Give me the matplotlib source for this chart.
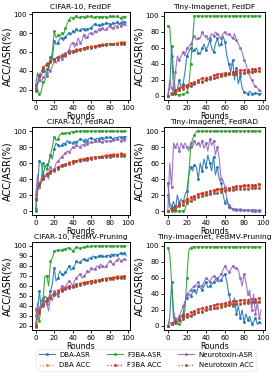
import numpy as np
import matplotlib
matplotlib.use("Agg")
import matplotlib.pyplot as plt
from matplotlib.ticker import MultipleLocator

rounds_asr = np.arange(0, 100, 2)
rounds_acc = np.arange(0, 100, 4)

titles = ["CIFAR-10, FedDF", "Tiny-Imagenet, FedDF",
          "CIFAR-10, FedRAD", "Tiny-Imagenet, FedRAD",
          "CIFAR-10, FedMV-Pruning", "Tiny-Imagenet, FedMV-Pruning"]

# ---------------- Panel 1: CIFAR-10, FedDF ----------------
p1_dba_asr = [25, 38, 30, 35, 40, 38, 42, 40, 55, 52,
              72, 68, 70, 74, 75, 72, 76, 78, 80, 78,
              82, 80, 84, 82, 83, 85, 84, 82, 84, 85,
              86, 88, 90, 88, 89, 87, 90, 89, 91, 90,
              90, 89, 91, 90, 92, 90, 91, 93, 92, 91]
p1_f3ba_asr = [22, 20, 15, 18, 28, 30, 35, 45, 50, 60,
               82, 75, 78, 76, 80, 78, 85, 90, 94, 97,
               96, 97, 98, 96, 97, 98, 97, 96, 98, 97,
               98, 96, 97, 98, 97, 98, 97, 98, 97, 96,
               98, 97, 98, 97, 98, 97, 96, 98, 97, 98]
p1_neuro_asr = [20, 25, 30, 28, 33, 35, 38, 42, 40, 45,
                50, 48, 52, 55, 53, 58, 56, 60, 62, 68,
                70, 65, 68, 75, 70, 72, 78, 74, 76, 80,
                80, 78, 82, 80, 84, 82, 85, 83, 84, 86,
                88, 85, 86, 88, 87, 90, 88, 89, 90, 88]
p1_dba_acc = [22, 35, 43, 48, 51, 52, 55, 56, 59, 60, 61, 63, 63, 64, 65, 66, 66, 67, 68, 68, 69, 69, 70, 71, 71]
p1_f3ba_acc = [20, 36, 44, 47, 50, 53, 55, 57, 58, 60, 61, 62, 63, 64, 65, 65, 66, 67, 67, 68, 68, 69, 69, 70, 70]
p1_neuro_acc = [19, 34, 42, 46, 49, 52, 54, 56, 57, 59, 60, 61, 62, 63, 64, 64, 65, 66, 67, 67, 68, 68, 69, 69, 69]

# ---------------- Panel 2: Tiny-Imagenet, FedDF ----------------
p2_dba_asr = [0, 10, 62, 30, 5, 8, 20, 10, 15, 30,
              50, 55, 60, 55, 58, 60, 54, 52, 60, 65,
              58, 62, 70, 60, 55, 65, 72, 62, 65, 75,
              68, 50, 40, 30, 45, 20, 35, 15, 25, 10,
              5, 4, 3, 6, 3, 2, 4, 3, 2, 3]
p2_f3ba_asr = [88, 86, 50, 10, 2, 2, 1, 2, 2, 3,
               5, 12, 40, 70, 100, 100, 100, 100, 100, 100,
               100, 100, 100, 100, 100, 100, 100, 100, 100, 100,
               100, 100, 100, 100, 100, 100, 100, 100, 100, 100,
               100, 100, 100, 100, 100, 100, 100, 100, 100, 100]
p2_neuro_asr = [0, 20, 10, 5, 30, 50, 45, 50, 55, 50,
                60, 62, 65, 70, 75, 70, 72, 72, 80, 75,
                75, 70, 73, 78, 75, 80, 78, 75, 72, 78,
                80, 76, 78, 75, 72, 78, 70, 65, 60, 55,
                45, 40, 30, 25, 20, 15, 12, 10, 8, 5]
p2_dba_acc = [0, 2, 5, 8, 10, 12, 14, 16, 17, 19, 20, 22, 23, 24, 25, 26, 27, 28, 28, 29, 29, 30, 30, 31, 31]
p2_f3ba_acc = [0, 4, 7, 10, 12, 14, 16, 18, 20, 22, 23, 24, 26, 27, 28, 29, 29, 30, 31, 32, 32, 33, 34, 34, 35]
p2_neuro_acc = [0, 2, 4, 7, 9, 11, 13, 15, 17, 18, 20, 21, 22, 24, 25, 26, 27, 27, 28, 29, 29, 30, 30, 31, 31]

# ---------------- Panel 3: CIFAR-10, FedRAD ----------------
p3_dba_asr = [0, 30, 63, 60, 45, 55, 58, 60, 70, 65,
              78, 85, 82, 80, 82, 85, 84, 88, 86, 85,
              85, 87, 86, 88, 90, 89, 88, 90, 88, 91,
              91, 90, 89, 91, 90, 92, 91, 90, 92, 91,
              92, 91, 90, 92, 91, 93, 92, 91, 93, 93]
p3_f3ba_asr = [2, 28, 30, 40, 60, 55, 52, 60, 70, 80,
               93, 88, 90, 95, 97, 96, 97, 98, 98, 99,
               99, 99, 100, 99, 100, 100, 100, 100, 100, 100,
               100, 100, 100, 100, 100, 100, 100, 100, 100, 100,
               100, 100, 100, 100, 100, 100, 100, 100, 100, 100]
p3_neuro_asr = [20, 45, 30, 35, 40, 42, 45, 40, 55, 50,
                50, 60, 62, 65, 68, 70, 72, 75, 74, 76,
                80, 78, 82, 81, 80, 83, 82, 85, 84, 85,
                86, 85, 87, 86, 88, 87, 86, 88, 87, 88,
                87, 88, 89, 88, 90, 89, 88, 90, 89, 90]
p3_dba_acc = [16, 34, 41, 47, 49, 53, 54, 58, 58, 61, 62, 63, 65, 65, 66, 67, 68, 68, 69, 70, 70, 71, 71, 72, 71]
p3_f3ba_acc = [15, 35, 42, 46, 50, 52, 55, 57, 59, 60, 62, 63, 64, 65, 66, 66, 67, 68, 68, 69, 70, 70, 70, 71, 70]
p3_neuro_acc = [14, 33, 40, 45, 48, 51, 53, 56, 57, 59, 60, 62, 63, 64, 64, 65, 66, 67, 67, 68, 68, 69, 69, 69, 69]

# ---------------- Panel 4: Tiny-Imagenet, FedRAD ----------------
p4_dba_asr = [35, 10, 5, 12, 2, 20, 10, 15, 10, 20,
              25, 45, 55, 50, 58, 55, 40, 60, 50, 65,
              55, 70, 60, 50, 68, 45, 55, 40, 35, 20,
              10, 15, 5, 3, 2, 2, 1, 2, 1, 1,
              1, 1, 1, 0, 1, 1, 0, 1, 0, 0]
p4_f3ba_asr = [20, 5, 0, 0, 0, 0, 0, 0, 0, 2,
               10, 45, 80, 90, 95, 100, 100, 100, 100, 100,
               100, 100, 100, 100, 100, 100, 100, 100, 100, 100,
               100, 100, 100, 100, 100, 100, 100, 100, 100, 100,
               100, 100, 100, 100, 100, 100, 100, 100, 100, 100]
p4_neuro_asr = [0, 60, 30, 85, 80, 85, 75, 85, 80, 85,
                80, 75, 85, 80, 88, 82, 85, 80, 88, 78,
                85, 75, 90, 82, 88, 70, 80, 65, 40, 38,
                30, 15, 8, 5, 3, 2, 2, 1, 2, 1,
                1, 1, 1, 1, 0, 1, 1, 0, 1, 1]
p4_dba_acc = [0, 2, 4, 7, 10, 13, 15, 17, 19, 21, 22, 23, 25, 26, 27, 27, 28, 29, 29, 30, 30, 31, 31, 31, 32]
p4_f3ba_acc = [0, 3, 6, 9, 12, 15, 17, 19, 21, 23, 24, 25, 26, 27, 28, 29, 29, 30, 31, 31, 32, 32, 33, 33, 34]
p4_neuro_acc = [0, 1, 3, 6, 8, 11, 13, 15, 17, 19, 20, 21, 22, 23, 24, 25, 26, 26, 27, 27, 28, 28, 29, 29, 29]

# ---------------- Panel 5: CIFAR-10, FedMV-Pruning ----------------
p5_dba_asr = [22, 35, 55, 38, 45, 50, 48, 48, 55, 62,
              78, 65, 68, 75, 72, 70, 74, 76, 80, 76,
              78, 80, 85, 83, 84, 86, 87, 85, 86, 88,
              88, 90, 89, 88, 90, 91, 90, 89, 90, 91,
              90, 92, 91, 92, 91, 92, 93, 91, 93, 90]
p5_f3ba_asr = [37, 30, 25, 45, 48, 70, 70, 60, 85, 88,
               95, 95, 96, 96, 96, 97, 97, 98, 98, 97,
               95, 97, 99, 98, 98, 98, 99, 99, 100, 99,
               100, 100, 100, 100, 100, 100, 100, 100, 100, 100,
               100, 100, 100, 100, 100, 100, 100, 100, 100, 100]
p5_neuro_asr = [30, 43, 38, 40, 40, 45, 42, 35, 50, 45,
                55, 52, 50, 55, 60, 58, 58, 62, 65, 63,
                60, 65, 68, 70, 72, 68, 70, 72, 75, 73,
                78, 76, 77, 80, 79, 82, 80, 78, 80, 82,
                85, 83, 82, 84, 86, 88, 85, 86, 87, 86]
p5_dba_acc = [21, 34, 43, 47, 51, 52, 56, 56, 59, 59, 61, 61, 63, 64, 64, 65, 66, 66, 67, 68, 68, 69, 70, 70, 70]
p5_f3ba_acc = [20, 36, 42, 46, 50, 53, 55, 57, 58, 60, 60, 62, 62, 63, 64, 65, 65, 66, 67, 67, 68, 68, 69, 69, 70]
p5_neuro_acc = [19, 33, 41, 45, 48, 51, 53, 55, 57, 58, 59, 60, 61, 62, 63, 63, 64, 65, 66, 66, 67, 67, 68, 68, 68]

# ---------------- Panel 6: Tiny-Imagenet, FedMV-Pruning ----------------
p6_dba_asr = [0, 10, 55, 10, 5, 3, 8, 12, 15, 30,
              35, 40, 38, 42, 45, 40, 50, 48, 45, 50,
              55, 48, 50, 52, 55, 58, 60, 55, 58, 62,
              65, 55, 40, 30, 25, 35, 15, 25, 10, 20,
              5, 15, 8, 12, 3, 5, 10, 2, 5, 3]
p6_f3ba_asr = [98, 90, 55, 20, 5, 2, 3, 5, 10, 20,
               60, 95, 98, 99, 99, 99, 99, 99, 99, 99,
               99, 99, 99, 99, 99, 99, 99, 99, 99, 99,
               99, 99, 99, 99, 99, 99, 99, 99, 99, 99,
               99, 99, 99, 99, 99, 99, 99, 99, 99, 99]
p6_neuro_asr = [0, 5, 3, 5, 10, 8, 12, 18, 25, 30,
                40, 42, 45, 48, 50, 52, 55, 50, 50, 55,
                60, 58, 55, 60, 62, 60, 58, 62, 65, 70,
                75, 70, 68, 70, 75, 72, 72, 70, 60, 50,
                65, 55, 40, 45, 20, 40, 15, 30, 10, 20]
p6_dba_acc = [0, 2, 5, 8, 10, 12, 14, 16, 18, 19, 21, 22, 23, 24, 25, 26, 27, 28, 28, 29, 29, 30, 30, 31, 31]
p6_f3ba_acc = [0, 4, 7, 10, 13, 15, 17, 19, 21, 22, 24, 25, 26, 27, 28, 29, 30, 31, 31, 32, 33, 33, 34, 34, 35]
p6_neuro_acc = [0, 2, 4, 7, 9, 11, 13, 15, 17, 18, 20, 21, 22, 23, 24, 25, 26, 27, 27, 28, 29, 29, 30, 30, 30]

panels = [
    (p1_dba_asr, p1_dba_acc, p1_f3ba_asr, p1_f3ba_acc, p1_neuro_asr, p1_neuro_acc),
    (p2_dba_asr, p2_dba_acc, p2_f3ba_asr, p2_f3ba_acc, p2_neuro_asr, p2_neuro_acc),
    (p3_dba_asr, p3_dba_acc, p3_f3ba_asr, p3_f3ba_acc, p3_neuro_asr, p3_neuro_acc),
    (p4_dba_asr, p4_dba_acc, p4_f3ba_asr, p4_f3ba_acc, p4_neuro_asr, p4_neuro_acc),
    (p5_dba_asr, p5_dba_acc, p5_f3ba_asr, p5_f3ba_acc, p5_neuro_asr, p5_neuro_acc),
    (p6_dba_asr, p6_dba_acc, p6_f3ba_asr, p6_f3ba_acc, p6_neuro_asr, p6_neuro_acc),
]
labels = ["DBA-ASR", "DBA ACC", "F3BA-ASR", "F3BA ACC", "Neurotoxin-ASR", "Neurotoxin ACC"]
colors = ["tab:blue", "tab:orange", "tab:green", "tab:red", "tab:purple", "tab:brown"]

fig = plt.figure(figsize=(2.76, 3.75), dpi=100)
W, H = 276.0, 375.0
boxes = [(32, 12, 130, 100), (164, 12, 265, 100),
         (32, 127, 130, 215), (164, 127, 265, 215),
         (32, 242, 130, 330), (164, 242, 265, 330)]

handles = None
for i, (series, title, box) in enumerate(zip(panels, titles, boxes)):
    l, t, r, b = box
    ax = fig.add_axes([l / W, 1 - b / H, (r - l) / W, (b - t) / H])
    hs = []
    for j, (vals, lab, col) in enumerate(zip(series, labels, colors)):
        if j % 2 == 0:
            h, = ax.plot(rounds_asr, vals, color=col, lw=0.8, marker='.', ms=2.3,
                         markevery=2, label=lab, alpha=0.9)
        else:
            h, = ax.plot(rounds_acc, vals, color=col, lw=0.9, ls=':', marker='.', ms=2.3,
                         label=lab, alpha=0.9)
        hs.append(h)
    handles = hs
    ax.set_title(title, fontsize=5.4, pad=2)
    ax.set_xlabel("Rounds", fontsize=5.6, labelpad=0.5)
    ax.set_ylabel("ACC/ASR(%)", fontsize=7, labelpad=1)
    ax.tick_params(labelsize=5, length=2, pad=1.5, width=0.6)
    ax.set_xlim(-4, 102)
    ax.set_xticks([0, 20, 40, 60, 80, 100])
    if i == 0:
        ax.set_ylim(9, 102.5)
        ax.set_yticks([20, 40, 60, 80, 100])
    elif i == 4:
        ax.set_ylim(16, 104)
        ax.yaxis.set_major_locator(MultipleLocator(10))
    else:
        ax.set_ylim(-5, 105)
        ax.set_yticks([0, 20, 40, 60, 80, 100])
    for s in ax.spines.values():
        s.set_linewidth(0.7)

fig.legend(handles, labels, loc='center', bbox_to_anchor=(0.529, 0.04), ncol=3,
           fontsize=5, frameon=True, handlelength=2.3, columnspacing=2.3,
           handletextpad=0.7, borderpad=0.4, labelspacing=0.6, framealpha=0.8,
           edgecolor='#eeeeee')
fig.savefig("out.png", dpi=100)
